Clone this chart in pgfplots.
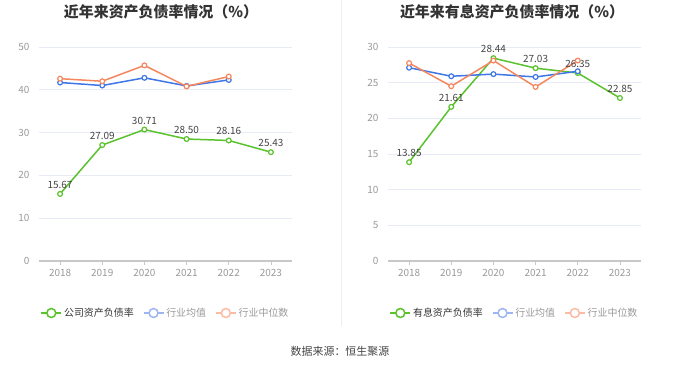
\documentclass[border=0pt]{standalone}
\usepackage{fontspec}
\setmainfont{Noto Sans CJK SC}
\usepackage{pgfplots}
\pgfplotsset{compat=1.18}
\definecolor{cG}{HTML}{5AC22C}
\definecolor{cB}{HTML}{3F76E6}
\definecolor{cO}{HTML}{F5875E}
\definecolor{lB}{HTML}{9DB6F2}
\definecolor{lO}{HTML}{FCBBA3}
\definecolor{gridc}{HTML}{E6EBF5}
\definecolor{tickc}{HTML}{999999}
\definecolor{titc}{HTML}{333333}
\definecolor{labc}{HTML}{444444}
\definecolor{sepc}{HTML}{EEEEEE}
\definecolor{axc}{HTML}{C8C8C8}
\begin{document}
\begin{tikzpicture}[x=1bp,y=1bp]
\path[use as bounding box] (0,0) rectangle (680,367);
\draw[color=sepc, line width=0.8bp] (341,367) -- (341,41);
\pgfplotsset{
  myax/.style={
    scale only axis, width=253bp, height=214bp, anchor=south west,
    xmin=-0.5, xmax=5.5, xtick={0,...,5},
    xticklabels={2018,2019,2020,2021,2022,2023},
    axis lines*=left,
    y axis line style={draw=none},
    x axis line style={draw=axc, line width=1.6bp},
    ytick style={draw=none},
    xtick style={draw=axc, line width=0.8bp},
    tick align=outside, major tick length=4bp,
    ymajorgrids, grid style={color=gridc, line width=0.7bp},
    tick label style={font=\fontsize{10}{12}\selectfont, color=tickc},
    yticklabel style={xshift=-2bp},
    xticklabel style={yshift=-1bp},
    /pgf/number format/assume math mode=true,
    clip=false,
    legend style={at={(0.5,-0.243)}, anchor=center, draw=none, fill=none,
      legend columns=3, font=\fontsize{10}{12}\selectfont,
      /tikz/every even column/.append style={column sep=7bp}},
    legend cell align=left,
    legend image code/.code={\draw[##1,mark repeat=2,mark phase=2] plot coordinates {(0bp,0bp)(10bp,0bp)(20bp,0bp)};},
  },
  dat/.style={line width=1.5bp, mark=*, mark size=2.4bp, mark options={fill=white, line width=1.2bp}},
  lab/.style={nodes near coords={\pgfmathprintnumber[fixed,fixed zerofill,precision=2]{\pgfplotspointmeta}},
    every node near coord/.append style={font=\fontsize{10}{12}\selectfont, color=labc, anchor=south, yshift=1.5bp}},
  leg/.style={line width=1.5bp, mark=*, mark size=4.5bp, mark options={fill=white, line width=1.5bp}},
}
\begin{axis}[myax, at={(39bp,106bp)}, ymin=0, ymax=50, ytick={0,10,20,30,40,50}]
\addplot[dat, color=cG, lab, forget plot] coordinates {(0,15.67)(1,27.09)(2,30.71)(3,28.50)(4,28.16)(5,25.43)};
\addplot[dat, color=cB, forget plot] coordinates {(0,41.7)(1,41.0)(2,42.8)(3,40.9)(4,42.3)};
\addplot[dat, color=cO, forget plot] coordinates {(0,42.6)(1,42.0)(2,45.7)(3,40.8)(4,43.1)};
\addlegendimage{leg, color=cG}
\addlegendentry{\textcolor{titc}{公司资产负债率}}
\addlegendimage{leg, color=lB}
\addlegendentry{\textcolor{tickc}{行业均值}}
\addlegendimage{leg, color=lO}
\addlegendentry{\textcolor{tickc}{行业中位数}}
\end{axis}
\begin{axis}[myax, at={(388bp,106bp)}, ymin=0, ymax=30, ytick={0,5,10,15,20,25,30}]
\addplot[dat, color=cG, lab, forget plot] coordinates {(0,13.85)(1,21.61)(2,28.44)(3,27.03)(4,26.35)(5,22.85)};
\addplot[dat, color=cB, forget plot] coordinates {(0,27.1)(1,25.9)(2,26.2)(3,25.8)(4,26.6)};
\addplot[dat, color=cO, forget plot] coordinates {(0,27.75)(1,24.5)(2,28.1)(3,24.4)(4,28.1)};
\addlegendimage{leg, color=cG}
\addlegendentry{\textcolor{titc}{有息资产负债率}}
\addlegendimage{leg, color=lB}
\addlegendentry{\textcolor{tickc}{行业均值}}
\addlegendimage{leg, color=lO}
\addlegendentry{\textcolor{tickc}{行业中位数}}
\end{axis}
\node[font=\fontsize{15}{17}\selectfont\bfseries, color=titc] at (161,355) {近年来资产负债率情况（\%）};
\node[font=\fontsize{15}{17}\selectfont\bfseries, color=titc] at (512,355) {近年来有息资产负债率情况（\%）};
\node[font=\fontsize{11}{13}\selectfont, color=labc] at (340,16) {数据来源：恒生聚源};
\end{tikzpicture}
\end{document}
